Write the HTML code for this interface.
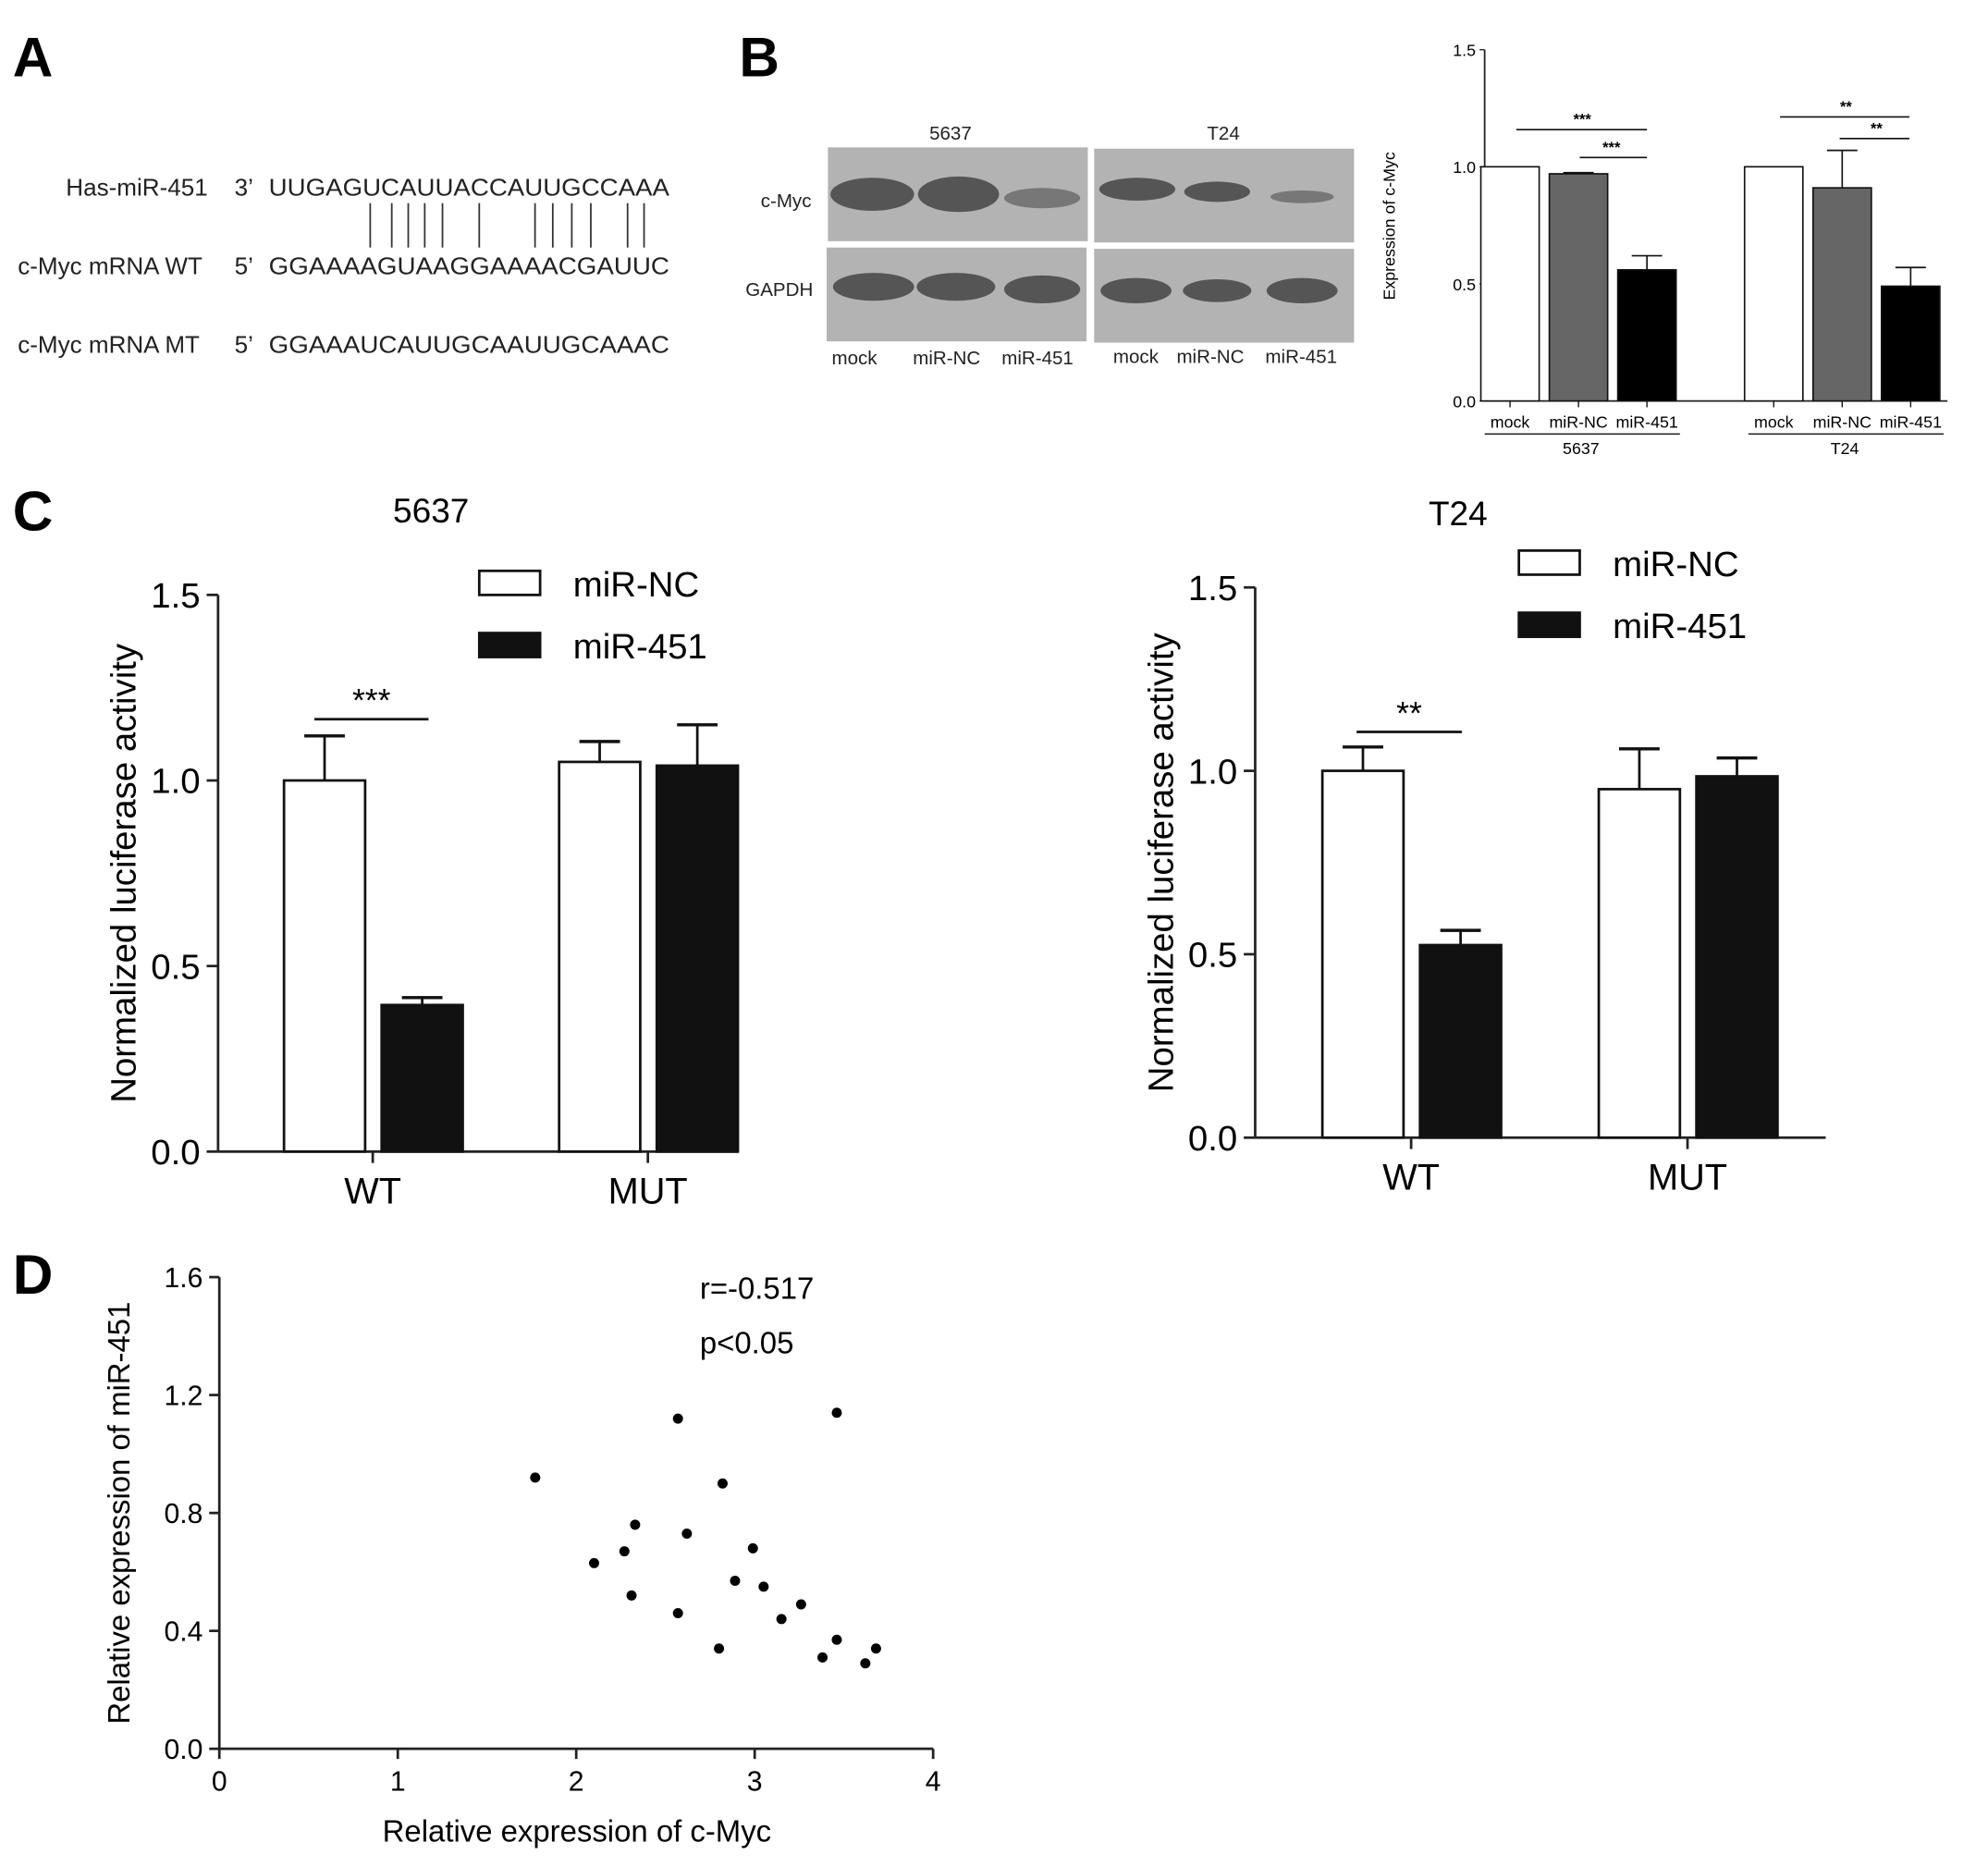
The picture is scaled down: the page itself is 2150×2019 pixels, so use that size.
<!DOCTYPE html>
<html><head><meta charset="utf-8"><style>
html,body{margin:0;padding:0;background:#fff;}
svg{display:block;font-family:"Liberation Sans",Arial,sans-serif;}
</style></head><body>
<svg id="fig" width="2150" height="2019" viewBox="0 0 1568 1472" xmlns="http://www.w3.org/2000/svg">
<g font-size="19" fill="#222">
<text x="10" y="60" font-size="44" font-weight="bold" fill="#000">A</text>
<text x="52" y="154">Has-miR-451</text><text x="185" y="154">3’</text>
<text x="212" y="154" textLength="316" lengthAdjust="spacingAndGlyphs">UUGAGUCAUUACCAUUGCCAAA</text>
<text x="14" y="216">c-Myc mRNA WT</text><text x="185" y="216">5’</text>
<text x="212" y="216" textLength="316" lengthAdjust="spacingAndGlyphs">GGAAAAGUAAGGAAAACGAUUC</text>
<text x="14" y="278">c-Myc mRNA  MT</text><text x="185" y="278">5’</text>
<text x="212" y="278" textLength="316" lengthAdjust="spacingAndGlyphs">GGAAAUCAUUGCAAUUGCAAAC</text>
<g stroke="#333" stroke-width="1.3">
<line x1="292" y1="160" x2="292" y2="195"/><line x1="309" y1="160" x2="309" y2="195"/><line x1="322" y1="160" x2="322" y2="195"/><line x1="335" y1="160" x2="335" y2="195"/><line x1="349" y1="160" x2="349" y2="195"/><line x1="378" y1="160" x2="378" y2="195"/><line x1="422" y1="160" x2="422" y2="195"/><line x1="436" y1="160" x2="436" y2="195"/><line x1="451" y1="160" x2="451" y2="195"/><line x1="466" y1="160" x2="466" y2="195"/><line x1="495" y1="160" x2="495" y2="195"/><line x1="508" y1="160" x2="508" y2="195"/>
</g></g>
<g font-size="15" fill="#222">
<text x="583" y="60" font-size="44" font-weight="bold" fill="#000">B</text>
<text x="733" y="110">5637</text><text x="952" y="110">T24</text>
<rect x="653" y="116" width="205" height="74" fill="#b3b3b3"/>
<rect x="863" y="117" width="205" height="74" fill="#b3b3b3"/>
<rect x="652" y="195" width="205" height="74" fill="#b3b3b3"/>
<rect x="863" y="196" width="205" height="74" fill="#b3b3b3"/>
<g fill="#555">
<ellipse cx="688" cy="153" rx="33" ry="13"/><ellipse cx="756" cy="153" rx="32" ry="14"/><ellipse cx="822" cy="156" rx="30" ry="8" fill="#777"/>
<ellipse cx="897" cy="149" rx="30" ry="9"/><ellipse cx="960" cy="151" rx="26" ry="8"/><ellipse cx="1027" cy="155" rx="25" ry="5" fill="#777"/>
<ellipse cx="689" cy="226" rx="32" ry="11"/><ellipse cx="754" cy="226" rx="31" ry="11"/><ellipse cx="822" cy="228" rx="30" ry="11"/>
<ellipse cx="896" cy="229" rx="28" ry="10"/><ellipse cx="960" cy="229" rx="27" ry="9"/><ellipse cx="1027" cy="229" rx="28" ry="10"/>
</g>
<text x="600" y="163">c-Myc</text><text x="588" y="233">GAPDH</text>
<text x="656" y="287">mock</text><text x="720" y="287">miR-NC</text><text x="790" y="287">miR-451</text>
<text x="878" y="286">mock</text><text x="928" y="286">miR-NC</text><text x="998" y="286">miR-451</text>
</g>
<g id="chartB"></g>
<g><text x="10" y="418" font-size="44" font-weight="bold">C</text></g>
<g id="chartC1"></g>
<g id="chartC2"></g>
<g><text x="10" y="1020" font-size="44" font-weight="bold">D</text></g>
<g id="chartD"></g>
</svg>
<script>
// Panel B data
const bCats = ["mock","miR-NC","miR-451"];
const bVals5637 = [1.0, 0.97, 0.56];
const bErr5637 = [1.0, 0.975, 0.62];
const bValsT24 = [1.0, 0.91, 0.49];
const bErrT24 = [1.0, 1.07, 0.57];
const bTicks = [0.0, 0.5, 1.0, 1.5];
// Panel C data
const cGroups = ["WT","MUT"];
const c5637NC = [1.0, 1.05];
const c5637NCerr = [1.12, 1.105];
const c5637M = [0.395, 1.04];
const c5637Merr = [0.415, 1.15];
const cT24NC = [1.0, 0.95];
const cT24NCerr = [1.065, 1.06];
const cT24M = [0.525, 0.985];
const cT24Merr = [0.565, 1.035];
const cTicks = [0.0, 0.5, 1.0, 1.5];
// Panel D data
const dX = [1.77,2.1,2.27,2.33,2.31,2.57,2.62,2.57,2.82,2.89,2.8,2.99,3.05,3.15,3.26,3.46,3.46,3.38,3.62,3.68];
const dY = [0.92,0.63,0.67,0.76,0.52,1.12,0.73,0.46,0.9,0.57,0.34,0.68,0.55,0.44,0.49,1.14,0.37,0.31,0.29,0.34];
const dXTicks = [0,1,2,3,4];
const dYTicks = [0.0,0.4,0.8,1.2,1.6];

const NS="http://www.w3.org/2000/svg";
function mk(parent,tag,attrs,txt){const e=document.createElementNS(NS,tag);for(const k in attrs)e.setAttribute(k,attrs[k]);if(txt!==undefined)e.textContent=txt;parent.appendChild(e);return e;}

// ---- Panel B chart
(function(){
 const g=document.getElementById('chartB');
 const y=v=>316-v*184.7;
 const ax=1171;
 let l=mk(g,'line',{x1:ax,y1:y(1.5),x2:ax,y2:y(0),stroke:'#222','stroke-width':1.3});
 
 l=mk(g,'line',{x1:ax,y1:y(0),x2:1536,y2:y(0),stroke:'#222','stroke-width':1.3});
 
 bTicks.forEach(t=>{mk(g,'line',{x1:ax-4,y1:y(t),x2:ax,y2:y(t),stroke:'#222'});
  const tx=mk(g,'text',{x:ax-7,y:y(t)+5,'font-size':13,'text-anchor':'end'},t.toFixed(1));
  });
 const yt=mk(g,'text',{transform:'translate(1100,178) rotate(-90)','font-size':13,'text-anchor':'middle'},'Expression of c-Myc');
 
 const fills=['#fff','#666','#000'];
 const groups=[{x0:1168,v:bVals5637,e:bErr5637,name:'5637'},{x0:1376,v:bValsT24,e:bErrT24,name:'T24'}];
 groups.forEach(gr=>{
  gr.v.forEach((v,i)=>{const x=gr.x0+i*54,w=46;
   if(gr.e[i]>v){mk(g,'line',{x1:x+w/2,y1:y(v),x2:x+w/2,y2:y(gr.e[i]),stroke:'#111','stroke-width':1.2});
    mk(g,'line',{x1:x+w/2-12,y1:y(gr.e[i]),x2:x+w/2+12,y2:y(gr.e[i]),stroke:'#111','stroke-width':1.2});}
   const r=mk(g,'rect',{x:x,y:y(v),width:w,height:y(0)-y(v),fill:fills[i],stroke:'#111','stroke-width':1.2});
   
   mk(g,'line',{x1:x+w/2,y1:y(0),x2:x+w/2,y2:y(0)+5,stroke:'#111'});
   const t=mk(g,'text',{x:x+w/2,y:337,'font-size':13,'text-anchor':'middle'},bCats[i]);
   
  });
  mk(g,'line',{x1:gr.x0+3,y1:342,x2:gr.x0+157,y2:342,stroke:'#111'});
  const t=mk(g,'text',{x:gr.x0+79,y:358,'font-size':13,'text-anchor':'middle'},gr.name);
  
 });
 const sig=[[1196,1299,102,'***',1248],[1246,1299,124,'***',1271],[1404,1506,92,'**',1456],[1451,1506,109,'**',1480]];
 sig.forEach(s=>{mk(g,'line',{x1:s[0],y1:s[2],x2:s[1],y2:s[2],stroke:'#111','stroke-width':1.2});
  const t=mk(g,'text',{x:s[4],y:s[2]-4,'font-size':12,'font-weight':'bold','text-anchor':'middle'},s[3]);
  });
})();

// ---- Panel C charts
function lucChart(id,cfg){
 const g=document.getElementById(id);
 const y=v=>cfg.y0-v*cfg.s;
 const ax=cfg.ax;
 let l=mk(g,'line',{x1:ax,y1:y(1.5),x2:ax,y2:y(0),stroke:'#222','stroke-width':2});
 
 l=mk(g,'line',{x1:ax,y1:y(0),x2:cfg.xend,y2:y(0),stroke:'#222','stroke-width':2});
 
 cTicks.forEach(t=>{mk(g,'line',{x1:ax-9,y1:y(t),x2:ax,y2:y(t),stroke:'#222','stroke-width':2});
  const tx=mk(g,'text',{x:ax-14,y:y(t)+10,'font-size':28,'text-anchor':'end'},t.toFixed(1));
  });
 const yt=mk(g,'text',{transform:'translate('+(ax-65)+','+(y(0.75))+') rotate(-90)','font-size':28,'text-anchor':'middle'},'Normalized luciferase activity');
 
 const tt=mk(g,'text',{x:cfg.tx,y:cfg.ty,'font-size':27,'text-anchor':'middle'},cfg.title);
 
 cGroups.forEach((gn,i)=>{
  const xs=[cfg.gx[i],cfg.gx[i]+77];
  [[cfg.nc,cfg.nce,'#fff','miR-NC'],[cfg.m,cfg.me,'#111','miR-451']].forEach((sr,j)=>{
   const x=xs[j],w=64,v=sr[0][i],e=sr[1][i];
   mk(g,'line',{x1:x+w/2,y1:y(v),x2:x+w/2,y2:y(e),stroke:'#111','stroke-width':2});
   mk(g,'line',{x1:x+w/2-16,y1:y(e),x2:x+w/2+16,y2:y(e),stroke:'#111','stroke-width':2.5});
   const r=mk(g,'rect',{x:x,y:y(v),width:w,height:y(0)-y(v),fill:sr[2],stroke:'#111','stroke-width':2});
   
  });
  mk(g,'line',{x1:cfg.gx[i]+70,y1:y(0),x2:cfg.gx[i]+70,y2:y(0)+9,stroke:'#222','stroke-width':2});
  const t=mk(g,'text',{x:cfg.gx[i]+70,y:y(0)+41,'font-size':29,'text-anchor':'middle'},gn);
  
 });
 mk(g,'line',{x1:cfg.sig[0],y1:cfg.sig[2],x2:cfg.sig[1],y2:cfg.sig[2],stroke:'#111','stroke-width':2});
 const st=mk(g,'text',{x:(cfg.sig[0]+cfg.sig[1])/2,y:cfg.sig[2]-6,'font-size':26,'text-anchor':'middle'},cfg.sig[3]);
 
 [['miR-NC','#fff',0],['miR-451','#111',49]].forEach(le=>{
  const r=mk(g,'rect',{x:cfg.lx,y:cfg.ly+le[2],width:48,height:19,fill:le[1],stroke:'#111','stroke-width':2});
  
  const t=mk(g,'text',{x:cfg.lx+74,y:cfg.ly+le[2]+20,'font-size':28},le[0]);
  
 });
}
lucChart('chartC1',{ax:172,y0:908,s:292.7,xend:582,gx:[224,441],nc:c5637NC,nce:c5637NCerr,m:c5637M,me:c5637Merr,title:'5637',tx:340,ty:412,sig:[248,338,567,'***'],lx:378,ly:450});
lucChart('chartC2',{ax:990,y0:897,s:289.3,xend:1440,gx:[1043,1261],nc:cT24NC,nce:cT24NCerr,m:cT24M,me:cT24Merr,title:'T24',tx:1150,ty:414,sig:[1070,1153,577,'**'],lx:1198,ly:434});

// ---- Panel D scatter
(function(){
 const g=document.getElementById('chartD');
 const x=v=>173+v*140.75, y=v=>1379-v*232.5;
 let l=mk(g,'line',{x1:x(0),y1:y(1.6),x2:x(0),y2:y(0),stroke:'#222','stroke-width':2});
 
 l=mk(g,'line',{x1:x(0),y1:y(0),x2:x(4),y2:y(0),stroke:'#222','stroke-width':2});
 
 dYTicks.forEach(t=>{mk(g,'line',{x1:x(0)-8,y1:y(t),x2:x(0),y2:y(t),stroke:'#222','stroke-width':2});
  const tx=mk(g,'text',{x:x(0)-13,y:y(t)+8,'font-size':22,'text-anchor':'end'},t.toFixed(1));
  });
 dXTicks.forEach(t=>{mk(g,'line',{x1:x(t),y1:y(0),x2:x(t),y2:y(0)+8,stroke:'#222','stroke-width':2});
  const tx=mk(g,'text',{x:x(t),y:y(0)+33,'font-size':22,'text-anchor':'middle'},String(t));
  });
 let t=mk(g,'text',{x:455,y:1452,'font-size':24,'text-anchor':'middle'},'Relative expression of c-Myc');
 
 t=mk(g,'text',{transform:'translate(102,1193) rotate(-90)','font-size':24,'text-anchor':'middle'},'Relative expression of miR-451');
 
 t=mk(g,'text',{x:552,y:1024,'font-size':24},'r=-0.517');
 
 t=mk(g,'text',{x:552,y:1067,'font-size':24},'p<0.05');
 
 dX.forEach((v,i)=>{const c=mk(g,'circle',{cx:x(v),cy:y(dY[i]),r:4,fill:'#000'});
  });
})();
</script>
</body></html>
